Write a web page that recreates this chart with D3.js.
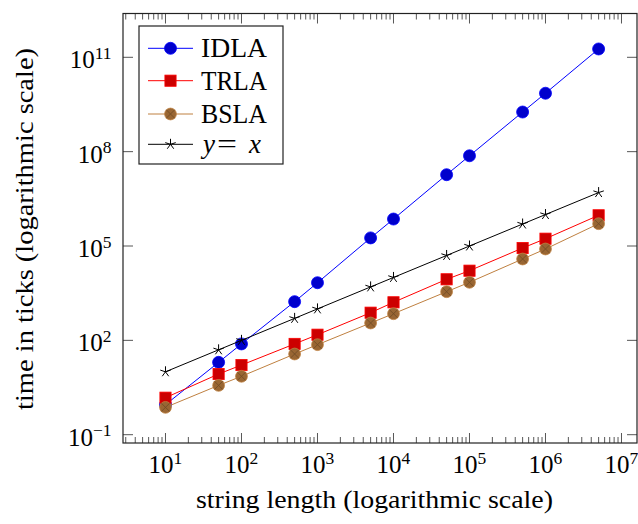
<!DOCTYPE html>
<html>
<head>
<meta charset="utf-8">
<script src="https://cdn.jsdelivr.net/npm/d3@7"></script>
<style>
  html, body { margin: 0; padding: 0; background: #fff; }
  svg { display: block; }
  text { font-family: "Liberation Serif", "Times New Roman", serif; fill: #000; }
</style>
</head>
<body>
<svg id="chart" width="638" height="524"></svg>
<script>
// ---- data ----
const stringLengths = [10, 50, 100, 500, 1000, 5000, 1e4, 5e4, 1e5, 5e5, 1e6, 5e6];
const idla = [0.9, 20, 77, 1700, 6800, 1.81e5, 7.2e5, 1.85e7, 7.4e7, 1.82e9, 7.2e9, 1.84e11];
const trla = [1.5, 8.5, 16.4, 77, 151, 757, 1620, 8730, 16400, 86300, 170600, 946000];
const bsla = [0.74, 3.7, 7.2, 36.8, 72.8, 356, 703, 3520, 7015, 38600, 80350, 511700];
const yEqualsX = stringLengths.slice();
const seriesNames = ["IDLA", "TRLA", "BSLA", "y = x"];
const xTickValues = [1e1, 1e2, 1e3, 1e4, 1e5, 1e6, 1e7];
const xTickExponents = ["1", "2", "3", "4", "5", "6", "7"];
const yTickValues = [1e-1, 1e2, 1e5, 1e8, 1e11];
const yTickExponents = ["\u22121", "2", "5", "8", "11"];
const xAxisTitle = "string length (logarithmic scale)";
const yAxisTitle = "time in ticks (logarithmic scale)";

// ---- layout ----
const L = 123, R = 637, T = 13.5, B = 443;
const svg = d3.select("#chart");

const x = d3.scaleLog().domain([Math.pow(10, 0.441), Math.pow(10, 7.204)]).range([L, R]);
const y = d3.scaleLog().domain([Math.pow(10, -1.264), Math.pow(10, 12.393)]).range([B, T]);

// minor x ticks
const minorX = [];
for (let e = 0; e <= 7; e++) for (let m = 2; m <= 9; m++) {
  const v = m * Math.pow(10, e);
  if (v > x.domain()[0] && v < x.domain()[1]) minorX.push(v);
}

const tickG = svg.append("g").attr("stroke", "#444").attr("stroke-width", 0.9);
minorX.forEach(v => {
  const px = x(v);
  tickG.append("line").attr("x1", px).attr("x2", px).attr("y1", B).attr("y2", B - 6);
  tickG.append("line").attr("x1", px).attr("x2", px).attr("y1", T).attr("y2", T + 6);
});
xTickValues.forEach(v => {
  const px = x(v);
  tickG.append("line").attr("x1", px).attr("x2", px).attr("y1", B).attr("y2", B - 10);
  tickG.append("line").attr("x1", px).attr("x2", px).attr("y1", T).attr("y2", T + 10);
});
yTickValues.forEach(v => {
  const py = y(v);
  tickG.append("line").attr("x1", L).attr("x2", L + 10).attr("y1", py).attr("y2", py);
  tickG.append("line").attr("x1", R).attr("x2", R - 10).attr("y1", py).attr("y2", py);
});

// tick labels
const FS = 25, SFS = 17.5;
xTickValues.forEach((v, i) => {
  const t = svg.append("text").attr("x", x(v)).attr("y", 473)
    .attr("text-anchor", "middle").attr("font-size", FS);
  t.append("tspan").text("10");
  t.append("tspan").attr("font-size", SFS).attr("dy", -9.5).text(xTickExponents[i]);
});
yTickValues.forEach((v, i) => {
  const t = svg.append("text").attr("x", 111.5).attr("y", y(v) + 11)
    .attr("text-anchor", "end").attr("font-size", FS);
  t.append("tspan").text("10");
  t.append("tspan").attr("font-size", SFS).attr("dy", -9.5).text(yTickExponents[i]);
});

// axis titles
svg.append("text").attr("x", 374.5).attr("y", 508).attr("text-anchor", "middle")
  .attr("font-size", 25).attr("textLength", 357).attr("lengthAdjust", "spacingAndGlyphs")
  .text(xAxisTitle);
svg.append("text").attr("transform", "translate(33,229) rotate(-90)")
  .attr("text-anchor", "middle").attr("font-size", 25)
  .attr("textLength", 362).attr("lengthAdjust", "spacingAndGlyphs").text(yAxisTitle);

// ---- series ----
const styles = [
  { line: "#0000ff", fill: "#0000cc", mark: "circle" },
  { line: "#ff0000", fill: "#cc0000", mark: "square" },
  { line: "#bf8040", fill: "#996633", mark: "otimes" },
  { line: "#000000", fill: "none", mark: "star" }
];
const allSeries = [idla, trla, bsla, yEqualsX];

function drawMark(g, kind, st, cx, cy) {
  if (kind === "circle") {
    g.append("circle").attr("cx", cx).attr("cy", cy).attr("r", 6)
      .attr("fill", st.fill).attr("stroke", st.line).attr("stroke-width", 0.8);
  } else if (kind === "square") {
    g.append("rect").attr("x", cx - 5.6).attr("y", cy - 5.6).attr("width", 11.2).attr("height", 11.2)
      .attr("fill", st.fill).attr("stroke", st.line).attr("stroke-width", 0.8);
  } else if (kind === "otimes") {
    const r = 5.9;
    g.append("circle").attr("cx", cx).attr("cy", cy).attr("r", r)
      .attr("fill", st.fill).attr("stroke", st.line).attr("stroke-width", 0.8);
    const d = r * Math.SQRT1_2;
    g.append("path").attr("d", `M${cx - d},${cy - d}L${cx + d},${cy + d}M${cx - d},${cy + d}L${cx + d},${cy - d}`)
      .attr("stroke", "#6e4a24").attr("stroke-width", 0.8).attr("fill", "none");
  } else if (kind === "star") {
    let p = "";
    for (let k = 0; k < 5; k++) {
      const a = -Math.PI / 2 + k * 2 * Math.PI / 5;
      p += `M${cx},${cy}L${cx + 5.5 * Math.cos(a)},${cy + 5.5 * Math.sin(a)}`;
    }
    g.append("path").attr("d", p).attr("stroke", st.line).attr("stroke-width", 1).attr("fill", "none");
  }
}

const plotG = svg.append("g");
allSeries.forEach((vals, si) => {
  const st = styles[si];
  const pts = stringLengths.map((xv, i) => [x(xv), y(vals[i])]);
  plotG.append("path").attr("d", d3.line()(pts))
    .attr("fill", "none").attr("stroke", st.line).attr("stroke-width", 1);
  const mg = plotG.append("g");
  pts.forEach(p => drawMark(mg, st.mark, st, p[0], p[1]));
});

// frame
svg.append("rect").attr("x", L).attr("y", T).attr("width", R - L).attr("height", B - T)
  .attr("fill", "none").attr("stroke", "#222").attr("stroke-width", 1.2);

// ---- legend ----
const lg = svg.append("g");
lg.append("rect").attr("x", 139).attr("y", 26).attr("width", 144).attr("height", 138)
  .attr("fill", "#fff").attr("stroke", "#222").attr("stroke-width", 1.2);
const legendY = [48.3, 80.7, 114, 144.3];
seriesNames.forEach((name, i) => {
  const st = styles[i];
  const cy = legendY[i];
  lg.append("line").attr("x1", 148).attr("x2", 193).attr("y1", cy).attr("y2", cy)
    .attr("stroke", st.line).attr("stroke-width", 1);
  drawMark(lg, st.mark, st, 170.5, cy);
  if (name === "y = x") {
    const parts = name.split(" ");
    lg.append("text").attr("x", 203).attr("y", cy + 9).attr("font-size", 27)
      .attr("font-style", "italic").text(parts[0]);
    lg.append("text").attr("x", 217).attr("y", cy + 9).attr("font-size", 27)
      .attr("textLength", 20).attr("lengthAdjust", "spacingAndGlyphs").text(parts[1]);
    lg.append("text").attr("x", 249).attr("y", cy + 9).attr("font-size", 27)
      .attr("font-style", "italic").text(parts[2]);
  } else {
    lg.append("text").attr("x", 201).attr("y", cy + 9).attr("font-size", 27)
      .attr("textLength", 66).attr("lengthAdjust", "spacingAndGlyphs").text(name);
  }
});
</script>
</body>
</html>
